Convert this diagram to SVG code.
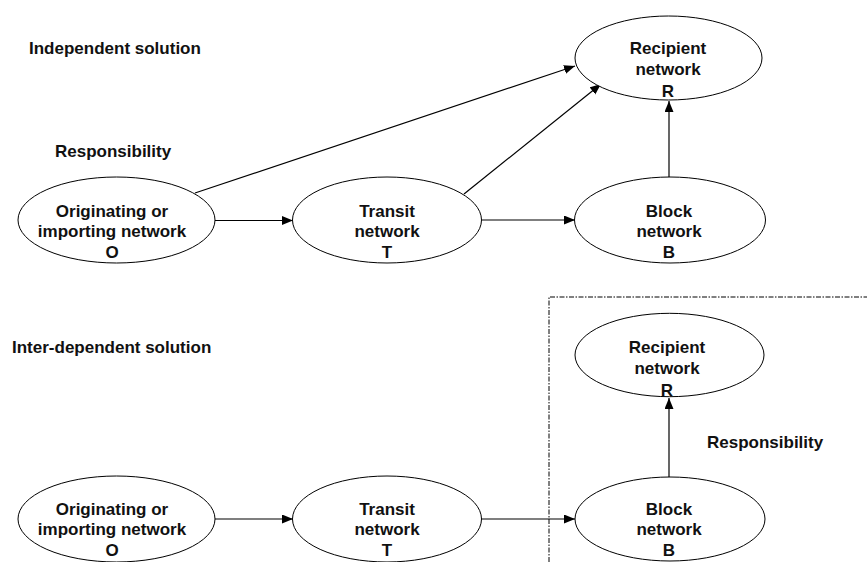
<svg xmlns="http://www.w3.org/2000/svg" width="867" height="562" viewBox="0 0 867 562">
  <style>
    .node ellipse { fill: #ffffff; stroke: #000000; stroke-width: 1; }
    .node text, .label { font-family: "Liberation Sans", Arial, sans-serif; font-weight: bold; font-size: 17px; fill: #111111; }
    .node text { text-anchor: middle; }
    .edge { stroke: #000000; stroke-width: 1.2; fill: none; marker-end: url(#arrow); }
    .boundary { stroke: #000000; stroke-width: 1; fill: none; stroke-dasharray: 5 1.5 1.5 1.5; }
  </style>
  <defs>
    <marker id="arrow" markerUnits="userSpaceOnUse" markerWidth="12" markerHeight="10" refX="11" refY="4.5" orient="auto">
      <path d="M0,0 L11,4.5 L0,9 z" fill="#000000"/>
    </marker>
  </defs>
  <rect width="867" height="562" fill="#ffffff"/>

  <!-- section headings -->
  <text class="label" x="29" y="54">Independent solution</text>
  <text class="label" x="55" y="157">Responsibility</text>
  <text class="label" x="12" y="353">Inter-dependent solution</text>
  <text class="label" x="707" y="448">Responsibility</text>

  <!-- responsibility boundary of the inter-dependent case -->
  <path class="boundary" d="M549,562 V297 H867"/>

  <!-- connectors -->
  <g id="connectors">
    <line class="edge" x1="215" y1="220.5" x2="293" y2="220.5"/>
    <line class="edge" x1="195" y1="193" x2="575" y2="66"/>
    <line class="edge" x1="464" y1="194" x2="601" y2="84"/>
    <line class="edge" x1="482" y1="220" x2="575" y2="220"/>
    <line class="edge" x1="669" y1="177" x2="669" y2="101"/>
    <line class="edge" x1="215" y1="519" x2="293" y2="519"/>
    <line class="edge" x1="481" y1="519" x2="575" y2="519"/>
    <line class="edge" x1="669" y1="477" x2="669" y2="398"/>
  </g>

  <!-- independent solution -->
  <g id="top-originating" class="node">
    <ellipse cx="116.5" cy="220" rx="98.5" ry="43"/>
    <text x="112" y="217">Originating or</text>
    <text x="112" y="236.5">importing network</text>
    <text x="112" y="257.5">O</text>
  </g>
  <g id="top-transit" class="node">
    <ellipse cx="387" cy="220" rx="94.5" ry="43"/>
    <text x="387" y="217">Transit</text>
    <text x="387" y="236.5">network</text>
    <text x="387" y="257.5">T</text>
  </g>
  <g id="top-block" class="node">
    <ellipse cx="670" cy="220" rx="95.5" ry="43"/>
    <text x="669" y="217">Block</text>
    <text x="669" y="236.5">network</text>
    <text x="669" y="257.5">B</text>
  </g>
  <g id="top-recipient" class="node">
    <ellipse cx="668.5" cy="58" rx="93.5" ry="42"/>
    <text x="668" y="54">Recipient</text>
    <text x="668" y="75">network</text>
    <text x="668" y="96.5">R</text>
  </g>

  <!-- inter-dependent solution -->
  <g id="bottom-originating" class="node">
    <ellipse cx="116.5" cy="519" rx="98.5" ry="43"/>
    <text x="112" y="515">Originating or</text>
    <text x="112" y="534.5">importing network</text>
    <text x="112" y="555.5">O</text>
  </g>
  <g id="bottom-transit" class="node">
    <ellipse cx="387" cy="519" rx="94.5" ry="43"/>
    <text x="387" y="515">Transit</text>
    <text x="387" y="534.5">network</text>
    <text x="387" y="555.5">T</text>
  </g>
  <g id="bottom-block" class="node">
    <ellipse cx="670" cy="519" rx="95" ry="42"/>
    <text x="669" y="515">Block</text>
    <text x="669" y="534.5">network</text>
    <text x="669" y="555.5">B</text>
  </g>
  <g id="bottom-recipient" class="node">
    <ellipse cx="669.5" cy="355" rx="94.5" ry="41.7"/>
    <text x="667" y="353">Recipient</text>
    <text x="667" y="374">network</text>
    <text x="667" y="395.5">R</text>
  </g>
</svg>
